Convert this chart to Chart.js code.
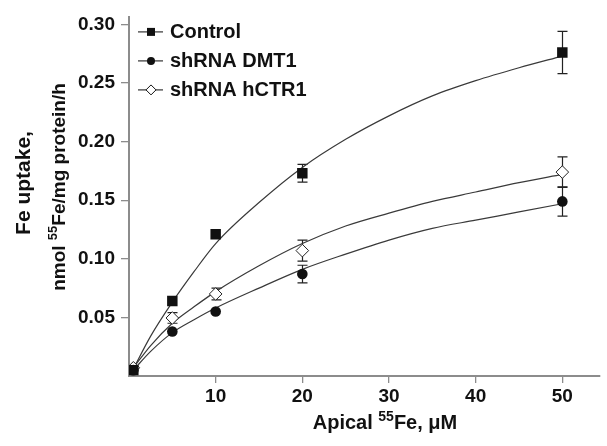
<!DOCTYPE html>
<html>
<head>
<meta charset="utf-8">
<script src="https://cdn.jsdelivr.net/npm/chart.js@4.4.1/dist/chart.umd.min.js"></script>
<style>
  html, body { margin: 0; padding: 0; background: #fff; }
</style>
</head>
<body>
<canvas id="feChart" width="607" height="446"></canvas>
<script>
const concentrations = [0.5, 5, 10, 20, 50];
const controlMeans = [0.005, 0.064, 0.121, 0.173, 0.276];
const controlErrors = [0, 0, 0, 0.0075, 0.018];
const dmt1Means = [0.005, 0.038, 0.055, 0.087, 0.149];
const dmt1Errors = [0, 0, 0, 0.0075, 0.0125];
const hctr1Means = [0.007, 0.0495, 0.070, 0.107, 0.174];
const hctr1Errors = [0, 0.0045, 0.005, 0.009, 0.013];

// fitted curves
const fitX = [0.5, 2.5, 5, 7.5, 10, 15, 20, 25, 30, 35, 40, 45, 50];
const controlFit = [0.006, 0.034, 0.063, 0.089, 0.113, 0.148, 0.178, 0.202, 0.222, 0.239, 0.252, 0.263, 0.273];
const dmt1Fit = [0.005, 0.021, 0.037, 0.048, 0.058, 0.075, 0.091, 0.104, 0.116, 0.126, 0.133, 0.140, 0.147];
const hctr1Fit = [0.007, 0.026, 0.045, 0.059, 0.072, 0.094, 0.113, 0.128, 0.139, 0.149, 0.157, 0.165, 0.172];

const seriesNames = ['Control', 'shRNA DMT1', 'shRNA hCTR1'];
const xTicks = [10, 20, 30, 40, 50];
const yTicks = [0.05, 0.10, 0.15, 0.20, 0.25, 0.30];

const FONT = '"Liberation Sans", Arial, Helvetica, sans-serif';
const INK = '#111';
const AXIS = '#8c8c8c';

function pts(xs, ys) {
    return xs.map((x, i) => ({ x: x, y: ys[i] }));
}

// error bars behind the markers
const errorBars = {
    id: 'errorBars',
    beforeDatasetsDraw(chart) {
        const ctx = chart.ctx;
        const xs = chart.scales.x, ys = chart.scales.y;
        const sets = [[controlMeans, controlErrors], [dmt1Means, dmt1Errors], [hctr1Means, hctr1Errors]];
        ctx.save();
        ctx.strokeStyle = '#222';
        ctx.lineWidth = 1.2;
        sets.forEach(([means, errs]) => {
            concentrations.forEach((c, i) => {
                if (!errs[i]) return;
                const px = Math.round(xs.getPixelForValue(c)) + 0.5;
                const top = ys.getPixelForValue(means[i] + errs[i]);
                const bot = ys.getPixelForValue(means[i] - errs[i]);
                ctx.beginPath();
                ctx.moveTo(px, top); ctx.lineTo(px, bot);
                ctx.moveTo(px - 5, top); ctx.lineTo(px + 5, top);
                ctx.moveTo(px - 5, bot); ctx.lineTo(px + 5, bot);
                ctx.stroke();
            });
        });
        ctx.restore();
    }
};

function drawMarker(ctx, kind, x, y) {
    ctx.beginPath();
    if (kind === 0) {
        ctx.rect(x - 4, y - 4, 8, 8);
        ctx.fillStyle = INK; ctx.fill();
    } else if (kind === 1) {
        ctx.arc(x, y, 4, 0, Math.PI * 2);
        ctx.fillStyle = INK; ctx.fill();
    } else {
        ctx.moveTo(x - 5, y); ctx.lineTo(x, y - 5); ctx.lineTo(x + 5, y); ctx.lineTo(x, y + 5);
        ctx.closePath();
        ctx.fillStyle = '#fff'; ctx.fill();
        ctx.strokeStyle = INK; ctx.lineWidth = 1; ctx.stroke();
    }
}

// legend: line with marker, inside the plot top-left
const insideLegend = {
    id: 'insideLegend',
    afterDraw(chart) {
        const ctx = chart.ctx;
        const a = chart.chartArea;
        ctx.save();
        seriesNames.forEach((name, i) => {
            const y = a.top + 14.5 + i * 29;
            ctx.strokeStyle = '#333';
            ctx.lineWidth = 1.2;
            ctx.beginPath();
            ctx.moveTo(a.left + 9, y); ctx.lineTo(a.left + 34, y);
            ctx.stroke();
            drawMarker(ctx, i, a.left + 22, y);
            ctx.fillStyle = INK;
            ctx.font = 'bold 20px ' + FONT;
            ctx.textAlign = 'left';
            ctx.textBaseline = 'middle';
            ctx.fillText(name, a.left + 41, y + 1);
        });
        ctx.restore();
    }
};

// text with a superscript part, centred on (0,0)
function richText(ctx, parts, size) {
    const supSize = Math.round(size * 0.68);
    let total = 0;
    parts.forEach(p => {
        ctx.font = 'bold ' + (p.sup ? supSize : size) + 'px ' + FONT;
        p.w = ctx.measureText(p.t).width;
        total += p.w;
    });
    let x = -total / 2;
    ctx.textAlign = 'left';
    ctx.textBaseline = 'alphabetic';
    parts.forEach(p => {
        ctx.font = 'bold ' + (p.sup ? supSize : size) + 'px ' + FONT;
        ctx.fillText(p.t, x, p.sup ? size * 0.36 - size * 0.42 : size * 0.36);
        x += p.w;
    });
}

const axisTitles = {
    id: 'axisTitles',
    afterDraw(chart) {
        const ctx = chart.ctx;
        ctx.save();
        ctx.fillStyle = INK;
        ctx.translate(385, 422);
        richText(ctx, [{ t: 'Apical ' }, { t: '55', sup: true }, { t: 'Fe, \u03bcM' }], 20);
        ctx.restore();

        ctx.save();
        ctx.fillStyle = INK;
        ctx.translate(22, 183);
        ctx.rotate(-Math.PI / 2);
        richText(ctx, [{ t: 'Fe uptake,' }], 21);
        ctx.restore();

        ctx.save();
        ctx.fillStyle = INK;
        ctx.translate(58, 187);
        ctx.rotate(-Math.PI / 2);
        richText(ctx, [{ t: 'nmol ' }, { t: '55', sup: true }, { t: 'Fe/mg protein/h' }], 19);
        ctx.restore();
    }
};

const ctx = document.getElementById('feChart').getContext('2d');
new Chart(ctx, {
    type: 'scatter',
    data: {
        datasets: [
            {
                label: seriesNames[0], data: pts(concentrations, controlMeans),
                pointStyle: 'rect', pointRadius: 7.4, pointHoverRadius: 7.4,
                backgroundColor: INK, borderColor: INK, borderWidth: 0, showLine: false
            },
            {
                label: seriesNames[1], data: pts(concentrations, dmt1Means),
                pointStyle: 'circle', pointRadius: 5.3, pointHoverRadius: 5.3,
                backgroundColor: INK, borderColor: INK, borderWidth: 0, showLine: false
            },
            {
                label: seriesNames[2], data: pts(concentrations, hctr1Means),
                pointStyle: 'rectRot', pointRadius: 6.3, pointHoverRadius: 6.3,
                backgroundColor: '#fff', borderColor: '#222', borderWidth: 1, showLine: false
            },
            {
                label: 'Control fit', data: pts(fitX, controlFit), showLine: true,
                pointRadius: 0, borderColor: '#3a3a3a', borderWidth: 1.2, cubicInterpolationMode: 'monotone'
            },
            {
                label: 'DMT1 fit', data: pts(fitX, dmt1Fit), showLine: true,
                pointRadius: 0, borderColor: '#3a3a3a', borderWidth: 1.2, cubicInterpolationMode: 'monotone'
            },
            {
                label: 'hCTR1 fit', data: pts(fitX, hctr1Fit), showLine: true,
                pointRadius: 0, borderColor: '#3a3a3a', borderWidth: 1.2, cubicInterpolationMode: 'monotone'
            }
        ]
    },
    options: {
        responsive: false,
        animation: false,
        layout: { padding: { top: 12, right: 2, left: 0, bottom: 0 } },
        plugins: {
            legend: { display: false },
            tooltip: { enabled: false }
        },
        scales: {
            x: {
                type: 'linear', min: 0, max: 54.3,
                afterFit: s => { s.height = 70; },
                afterBuildTicks: s => { s.ticks = xTicks.map(v => ({ value: v })); },
                border: { color: AXIS, width: 2 },
                grid: { drawOnChartArea: false, drawTicks: true, tickLength: 7, color: AXIS, lineWidth: 1.3 },
                ticks: { color: INK, padding: 2, maxRotation: 0, font: { family: FONT, size: 19, weight: 'bold' } }
            },
            y: {
                type: 'linear', min: 0, max: 0.306,
                afterFit: s => { s.width = 129; },
                afterBuildTicks: s => { s.ticks = yTicks.map(v => ({ value: v })); },
                border: { color: AXIS, width: 2 },
                grid: { drawOnChartArea: false, drawTicks: true, tickLength: 8, color: AXIS, lineWidth: 1.3 },
                ticks: {
                    color: INK, padding: 6, font: { family: FONT, size: 19, weight: 'bold' },
                    callback: v => v.toFixed(2)
                }
            }
        }
    },
    plugins: [errorBars, insideLegend, axisTitles]
});
</script>
</body>
</html>
